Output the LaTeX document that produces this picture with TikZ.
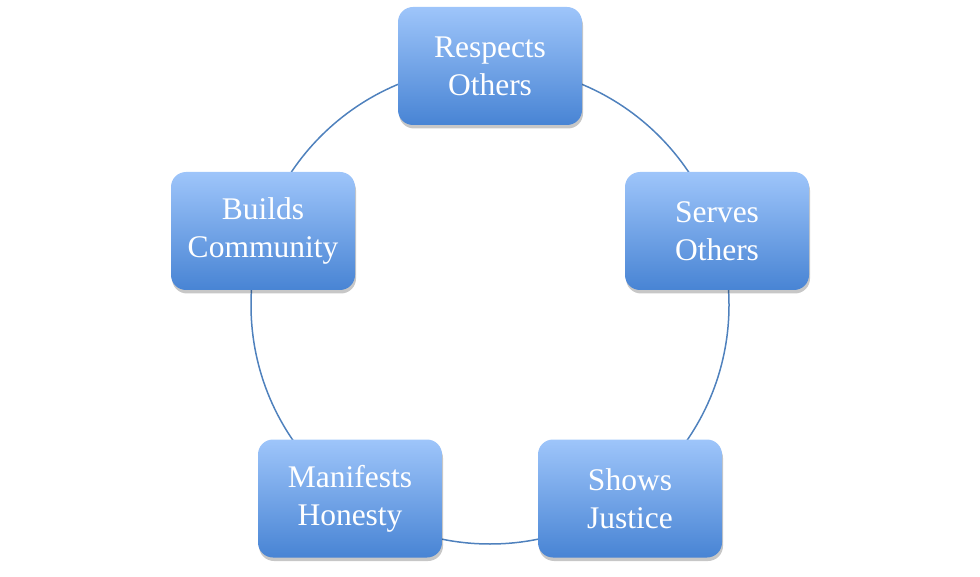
\documentclass[tikz,border=0pt]{standalone}
\usepackage{fontspec}
\setmainfont{Liberation Serif}
\usepackage{tikz}
\usetikzlibrary{shadows}
\definecolor{ringblue}{RGB}{79,129,189}
\definecolor{boxtop}{RGB}{158,197,250}
\definecolor{boxbot}{RGB}{72,132,212}
\tikzset{
  valuebox/.style={rounded corners=15pt, minimum width=184pt,
                   minimum height=118pt, align=center, text=white,
                   top color=boxtop, bottom color=boxbot,
                   font=\fontsize{31.5}{38}\selectfont, inner sep=2pt,
                   drop shadow={shadow xshift=1pt, shadow yshift=-3.5pt,
                                opacity=0.22, fill=black}},
  ring/.style={draw=ringblue, line width=1.5pt},
}
\begin{document}
\begin{tikzpicture}[x=1pt, y=-1pt]
  \useasboundingbox (0,0) rectangle (980,577);
  \coordinate (hub) at (490,305);
  % the ring behind the boxes
  \draw[ring] (hub) circle[radius=239pt];
  \node[valuebox] (respects) at (490,66)    {Respects\\Others};
  \node[valuebox] (serves)   at (717,231)   {Serves\\Others};
  \node[valuebox] (justice)  at (630,498.5) {Shows\\Justice};
  \node[valuebox] (honesty)  at (350,498.5) {Manifests\\Honesty};
  \node[valuebox] (builds)   at (263,231)   {Builds\\Community};
\end{tikzpicture}
\end{document}
